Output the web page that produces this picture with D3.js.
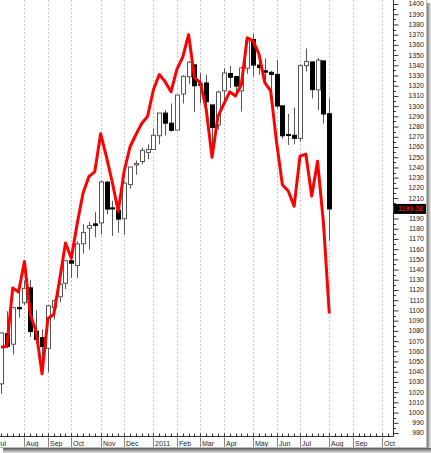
<!DOCTYPE html>
<html>
<head>
<meta charset="utf-8">
<script src="https://cdn.jsdelivr.net/npm/d3@7"></script>
<style>
  html, body { margin: 0; padding: 0; background: #fff; }
  svg { display: block; }
  text { font-family: "Liberation Sans", Arial, sans-serif; }
</style>
</head>
<body>
<svg id="chart" width="431" height="453"></svg>
<script>
// ---------- DATA ----------
const weeks = ["2010-07-05","2010-07-12","2010-07-19","2010-07-26","2010-08-02","2010-08-09","2010-08-16","2010-08-23","2010-08-30",
  "2010-09-06","2010-09-13","2010-09-20","2010-09-27","2010-10-04","2010-10-11","2010-10-18","2010-10-25","2010-11-01","2010-11-08",
  "2010-11-15","2010-11-22","2010-11-29","2010-12-06","2010-12-13","2010-12-20","2010-12-27","2011-01-03","2011-01-10","2011-01-17",
  "2011-01-24","2011-01-31","2011-02-07","2011-02-14","2011-02-21","2011-02-28","2011-03-07","2011-03-14","2011-03-21","2011-03-28",
  "2011-04-04","2011-04-11","2011-04-18","2011-04-25","2011-05-02","2011-05-09","2011-05-16","2011-05-23","2011-05-30","2011-06-06",
  "2011-06-13","2011-06-20","2011-06-27","2011-07-04","2011-07-11","2011-07-18","2011-07-25","2011-08-01"];
const open  = [1028.1,1077.2,1066.9,1102.9,1107.5,1122.1,1079.6,1073.4,1062.9,1102.6,1113.4,1126.6,1148.6,1144.0,1165.3,1180.5,1184.7,1185.7,1225.6,
  1200.4,1198.1,1189.8,1223.2,1242.5,1245.8,1254.7,1257.6,1271.0,1293.2,1283.3,1276.5,1311.9,1328.7,1340.4,1321.6,1322.7,1301.2,1281.6,1315.0,
  1332.0,1329.0,1315.0,1337.1,1365.2,1340.2,1334.6,1333.1,1331.1,1300.3,1272.2,1271.5,1268.4,1339.6,1343.3,1315.9,1344.3,1292.6];
const high  = [1078.2,1099.1,1103.5,1120.9,1129.2,1129.9,1100.1,1081.6,1105.1,1110.6,1130.2,1148.9,1157.2,1167.7,1184.4,1186.5,1196.1,1227.1,1226.8,
  1207.4,1199.9,1225.6,1240.4,1246.7,1259.4,1262.6,1278.2,1293.2,1296.1,1302.7,1311.0,1330.3,1344.1,1341.0,1332.3,1330.6,1301.2,1315.1,1337.1,
  1339.5,1329.0,1338.0,1364.6,1370.6,1346.0,1346.7,1334.7,1345.2,1300.6,1292.5,1298.6,1341.0,1356.5,1343.3,1347.0,1344.3,1307.4];
const low   = [1018.4,1063.3,1056.9,1093.0,1105.4,1074.0,1069.4,1039.7,1039.8,1091.2,1108.1,1120.9,1131.9,1131.9,1155.7,1159.7,1171.7,1174.3,1194.1,
  1173.0,1176.0,1174.0,1219.3,1232.9,1243.3,1248.0,1257.6,1262.7,1271.3,1275.1,1276.5,1302.6,1321.6,1294.3,1302.6,1291.1,1249.1,1276.8,1303.4,
  1318.0,1309.7,1294.7,1331.8,1329.2,1330.8,1323.9,1311.8,1297.9,1268.2,1262.0,1262.7,1265.4,1334.0,1307.6,1295.9,1282.9,1168.2];
const close = [1077.96,1064.88,1102.66,1101.60,1121.64,1079.25,1071.69,1064.59,1104.51,1109.55,1125.59,1148.67,1146.24,1165.15,1176.19,1183.08,1183.26,1225.85,1199.21,
  1199.73,1189.40,1224.71,1240.40,1243.91,1256.77,1257.64,1271.50,1293.24,1283.35,1276.34,1310.87,1329.15,1343.01,1319.88,1321.15,1304.28,1279.20,1313.80,1332.41,
  1328.17,1319.68,1337.38,1363.61,1340.20,1337.77,1333.27,1331.10,1300.16,1270.98,1271.50,1268.45,1339.67,1343.80,1316.14,1345.02,1292.28,1199.38];
const redLine = [1064,1065,1122,1118,1148,1096,1079,1038,1092,1096,1130,1166,1151,1185,1215,1231,1236,1273,1250,
  1225,1197,1236,1260,1272,1283,1290,1316,1331,1324,1314,1336,1348,1370,1328,1323,1297,1250,1290,1302,
  1314,1310,1321,1367,1364,1351,1323,1315,1265,1223,1217,1202,1251,1253,1212,1246,1186,1097];
const monthLabels = ["Jul","Aug","Sep","Oct","Nov","Dec","2011","Feb","Mar","Apr","May","Jun","Jul","Aug","Sep","Oct"];
const yTicks = d3.range(980, 1401, 10);
const lastLabel = "1199.38";

// ---------- LAYOUT ----------
const axisX = 393, axisY = 436.5;
const parse = d3.timeParse("%Y-%m-%d");
const dates = weeks.map(parse);
const x = d3.scaleTime().domain([dates[0], dates[dates.length-1]]).range([1, 329.3]);
const y = d3.scaleLinear().domain([980, 1400]).range([433, 4]);

const svg = d3.select("#chart");
svg.append("rect").attr("width", 431).attr("height", 453).attr("fill", "#fff");

const defs = svg.append("defs");
defs.append("clipPath").attr("id", "plot").append("rect")
  .attr("x", 0).attr("y", 0).attr("width", axisX).attr("height", axisY);

// axis weeks (including future weeks)
const axisWeeks = d3.timeMonday.range(new Date(2010, 5, 21), new Date(2011, 9, 24));
const boundaries = axisWeeks.filter(m => {
  const fri = d3.timeDay.offset(m, 4), prevFri = d3.timeDay.offset(m, -3);
  return fri.getMonth() !== prevFri.getMonth();
});
const monthMarks = boundaries.map((d, i) => ({ date: d, label: monthLabels[i] })).filter(d => d.label);

// gridlines
const grid = svg.append("g").attr("clip-path", "url(#plot)");
grid.selectAll("line").data(monthMarks).join("line")
  .attr("x1", d => Math.round(x(d.date)) + 0.5).attr("x2", d => Math.round(x(d.date)) + 0.5)
  .attr("y1", 0).attr("y2", axisY)
  .attr("stroke", "#c4c4c4").attr("stroke-width", 1).attr("stroke-dasharray", "2,2");

// candles
const candles = dates.map((d, i) => ({ d, o: open[i], h: high[i], l: low[i], c: close[i] }));
const cg = svg.append("g").attr("clip-path", "url(#plot)");
const cs = cg.selectAll("g").data(candles).join("g");
cs.append("line")
  .attr("x1", d => Math.round(x(d.d)) + 0.5).attr("x2", d => Math.round(x(d.d)) + 0.5)
  .attr("y1", d => y(d.h)).attr("y2", d => y(d.l))
  .attr("stroke", "#555").attr("stroke-width", 1);
cs.append("rect")
  .attr("x", d => Math.round(x(d.d)) - 1.5)
  .attr("width", 4)
  .attr("y", d => y(Math.max(d.o, d.c)))
  .attr("height", d => Math.max(1, Math.abs(y(d.o) - y(d.c))))
  .attr("fill", d => d.c >= d.o ? "#fff" : "#000")
  .attr("stroke", d => d.c >= d.o ? "#555" : "#000")
  .attr("stroke-width", 1);

// red line
const line = d3.line().x((d, i) => x(dates[i])).y(d => y(d));
cg.append("path").datum(redLine)
  .attr("d", line).attr("fill", "none")
  .attr("stroke", "#ff0000").attr("stroke-width", 3).attr("stroke-linejoin", "round");

// right axis
const yAxisG = svg.append("g").attr("transform", `translate(${axisX + 0.5},0)`);
yAxisG.call(d3.axisRight(y).tickValues(yTicks).tickSize(5).tickPadding(2).tickFormat(""));
yAxisG.select(".domain").attr("d", `M0,0V${axisY}`).attr("stroke", "#333");
yAxisG.selectAll(".tick line").attr("stroke", "#333");
// minor ticks
yAxisG.selectAll(".minor").data(yTicks.slice(0, -1)).join("line").attr("class", "minor")
  .attr("x1", 0).attr("x2", 2.5)
  .attr("y1", d => Math.round(y(d + 5)) + 0.5).attr("y2", d => Math.round(y(d + 5)) + 0.5)
  .attr("stroke", "#333");

// last price box (hides the tick label behind it)
const lastVal = close[close.length - 1];
const ly = y(lastVal);
svg.append("g").selectAll("text").data(yTicks.filter(v => Math.abs(y(v) - ly) > 6)).join("text")
  .attr("x", 424).attr("y", d => y(d)).attr("dy", "0.35em")
  .attr("text-anchor", "end").attr("font-size", 7).attr("fill", "#222")
  .text(d => d);
svg.append("rect").attr("x", axisX + 1).attr("y", ly - 5).attr("width", 33).attr("height", 10).attr("fill", "#000");
svg.append("text").attr("x", axisX + 17.5).attr("y", ly).attr("dy", "0.35em")
  .attr("text-anchor", "middle").attr("font-size", 7).attr("fill", "#ff2020").text(lastLabel);

// bottom axis
const xg = svg.append("g");
xg.append("line").attr("x1", 0).attr("x2", axisX + 0.5).attr("y1", axisY).attr("y2", axisY).attr("stroke", "#333");
xg.selectAll(".wk").data(axisWeeks.filter(d => x(d) >= 0 && x(d) < axisX)).join("line").attr("class", "wk")
  .attr("x1", d => Math.round(x(d)) + 0.5).attr("x2", d => Math.round(x(d)) + 0.5)
  .attr("y1", axisY).attr("y2", axisY - 3).attr("stroke", "#333");
xg.selectAll(".sep").data(monthMarks).join("line").attr("class", "sep")
  .attr("x1", d => Math.round(x(d.date)) + 0.5).attr("x2", d => Math.round(x(d.date)) + 0.5)
  .attr("y1", axisY).attr("y2", 447).attr("stroke", "#888");
xg.selectAll("text").data(monthMarks).join("text")
  .attr("x", d => Math.round(x(d.date)) + 2).attr("y", 445.5)
  .attr("font-size", 7).attr("fill", "#222").text(d => d.label);

// frame + shadow
const sh = defs.append("linearGradient").attr("id", "shB").attr("x1", 0).attr("y1", 0).attr("x2", 0).attr("y2", 1);
sh.append("stop").attr("offset", 0).attr("stop-color", "#555");
sh.append("stop").attr("offset", 1).attr("stop-color", "#e8e8e8");
const shR = defs.append("linearGradient").attr("id", "shR").attr("x1", 0).attr("y1", 0).attr("x2", 1).attr("y2", 0);
shR.append("stop").attr("offset", 0).attr("stop-color", "#777");
shR.append("stop").attr("offset", 1).attr("stop-color", "#eee");
svg.append("rect").attr("x", 427).attr("y", 3).attr("width", 4).attr("height", 445).attr("fill", "url(#shR)");
svg.append("rect").attr("x", 3).attr("y", 448).attr("width", 428).attr("height", 5).attr("fill", "url(#shB)");
svg.append("line").attr("x1", 426.5).attr("x2", 426.5).attr("y1", 0).attr("y2", 448).attr("stroke", "#bbb");
svg.append("line").attr("x1", 0).attr("x2", 427).attr("y1", 447.5).attr("y2", 447.5).attr("stroke", "#bbb");
</script>
</body>
</html>
